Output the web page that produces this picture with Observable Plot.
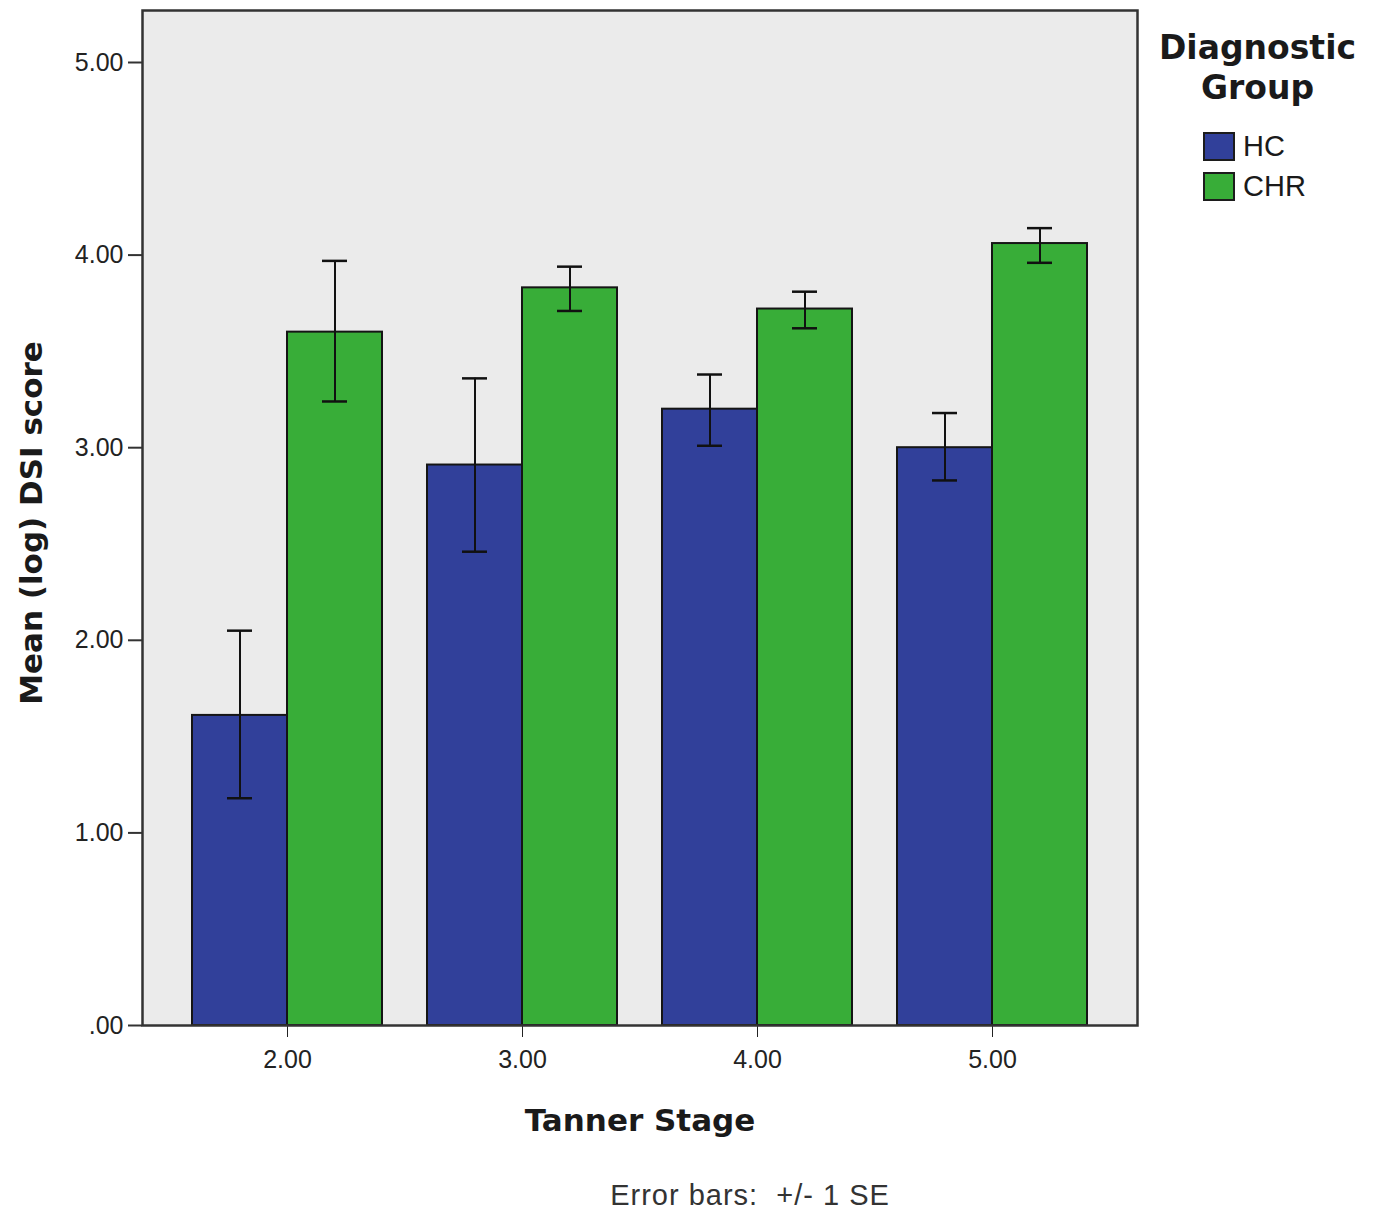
<!DOCTYPE html>
<html>
<head>
<meta charset="utf-8">
<script src="https://cdn.jsdelivr.net/npm/d3@7"></script>
<script src="https://cdn.jsdelivr.net/npm/@observablehq/plot@0.6"></script>
<style>
  html, body { margin: 0; padding: 0; background: #fff; }
  #wrap { position: relative; width: 1378px; height: 1214px; font-family: "Liberation Sans", Arial, sans-serif; color: #1a1a1a; }
  #ylabel { position: absolute; left: 31px; top: 523px; transform: translate(-50%, -50%) rotate(-90deg); font-family: "DejaVu Sans", sans-serif; font-weight: bold; font-size: 31px; white-space: nowrap; }
  #xlabel { position: absolute; left: 640px; top: 1120px; transform: translate(-50%, -50%); font-family: "DejaVu Sans", sans-serif; font-weight: bold; font-size: 31px; white-space: nowrap; }
  #caption { position: absolute; left: 750px; top: 1195px; transform: translate(-50%, -50%); font-size: 29px; letter-spacing: 1px; color: #333; white-space: pre; }
  #legend { position: absolute; left: 1150px; top: 28px; width: 215px; }
  #legend .title { font-family: "DejaVu Sans", sans-serif; font-weight: bold; font-size: 33px; text-align: center; line-height: 40px; }
  #legend .item { display: flex; align-items: center; margin-left: 53px; height: 40px; font-size: 29px; }
  #legend .sw { width: 32px; height: 29px; border: 2px solid #1c1c1c; margin-right: 8px; box-sizing: border-box; }
</style>
</head>
<body>
<div id="wrap">
  <div id="chart"></div>
  <div id="ylabel">Mean (log) DSI score</div>
  <div id="xlabel">Tanner Stage</div>
  <div id="caption">Error bars:  +/- 1 SE</div>
  <div id="legend"></div>
</div>
<script>
const stages = ["2.00", "3.00", "4.00", "5.00"];
const groups = ["HC", "CHR"];
const groupColors = ["#31409a", "#38ad38"];
const hcMean  = [1.61, 2.91, 3.20, 3.00];
const hcLow   = [1.18, 2.46, 3.01, 2.83];
const hcHigh  = [2.05, 3.36, 3.38, 3.18];
const chrMean = [3.60, 3.83, 3.72, 4.06];
const chrLow  = [3.24, 3.71, 3.62, 3.96];
const chrHigh = [3.97, 3.94, 3.81, 4.14];
const yTicks = [0, 1, 2, 3, 4, 5];
const yTickLabels = [".00", "1.00", "2.00", "3.00", "4.00", "5.00"];
const legendTitle = "Diagnostic Group";

const rows = [];
stages.forEach((s, i) => {
  rows.push({stage: s, group: "HC", mean: hcMean[i], low: hcLow[i], high: hcHigh[i]});
  rows.push({stage: s, group: "CHR", mean: chrMean[i], low: chrLow[i], high: chrHigh[i]});
});

// outer gap between the plot frame and the first/last facet (style only)
const outerGap = 50;

const chart = Plot.plot({
  width: 1378,
  height: 1085,
  marginLeft: 142,
  marginRight: 241,
  marginTop: 10,
  marginBottom: 60,
  style: {fontSize: "25px", fontFamily: "'Liberation Sans', Arial, sans-serif", color: "#222", background: "transparent"},
  fx: {domain: stages, paddingInner: 0.193, paddingOuter: 0.211, tickSize: 12, tickPadding: 13, label: null},
  x: {domain: groups, padding: 0, axis: null},
  y: {domain: [0, 5.27]},
  color: {domain: groups, range: groupColors},
  marks: [
    Plot.frame({facet: "super", fill: "#ebebeb", stroke: "none", insetLeft: -outerGap, insetRight: -outerGap}),
    Plot.axisY({ticks: yTicks, tickFormat: d => yTickLabels[yTicks.indexOf(d)], tickSize: 14, tickPadding: 5, dx: -outerGap, label: null, stroke: "#333", strokeWidth: 2}),
    Plot.barY(rows, {fx: "stage", x: "group", y: "mean", fill: "group", stroke: "#151515", strokeWidth: 2}),
    Plot.ruleX(rows, {fx: "stage", x: "group", y1: "low", y2: "high", stroke: "#111", strokeWidth: 2}),
    Plot.tickY(rows, {fx: "stage", x: "group", y: "low", stroke: "#111", strokeWidth: 2.5, insetLeft: 35, insetRight: 35}),
    Plot.tickY(rows, {fx: "stage", x: "group", y: "high", stroke: "#111", strokeWidth: 2.5, insetLeft: 35, insetRight: 35}),
    Plot.frame({facet: "super", stroke: "#333", strokeWidth: 2.5, insetLeft: -outerGap, insetRight: -outerGap})
  ]
});
document.getElementById("chart").appendChild(chart);

const legend = document.getElementById("legend");
const t = document.createElement("div");
t.className = "title";
t.innerHTML = legendTitle.split(" ").join("<br>");
legend.appendChild(t);
const spacer = document.createElement("div");
spacer.style.height = "18px";
legend.appendChild(spacer);
groups.forEach((g, i) => {
  const it = document.createElement("div");
  it.className = "item";
  const sw = document.createElement("div");
  sw.className = "sw";
  sw.style.background = groupColors[i];
  it.appendChild(sw);
  const lb = document.createElement("span");
  lb.textContent = g;
  it.appendChild(lb);
  legend.appendChild(it);
});
</script>
</body>
</html>
